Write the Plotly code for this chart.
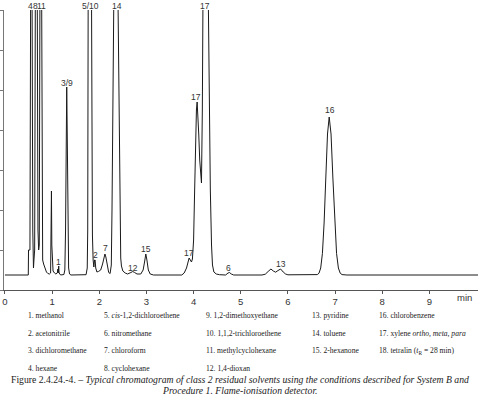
import plotly.graph_objects as go

# ---------------- data (time in min, detector signal in arbitrary units) ----
# baseline sits at 15; values above 280 are off-scale (clipped at the top of the plot)
seg_start = [(0.00, 15), (0.495, 15), (0.500, 40), (0.530, 40)]
seg_4_8_11 = [(0.545, 300), (0.575, 300), (0.590, 60), (0.597, 28), (0.605, 22), (0.615, 30),
              (0.630, 40), (0.645, 300), (0.685, 300), (0.700, 60), (0.715, 40), (0.728, 45),
              (0.742, 300), (0.778, 300), (0.790, 60), (0.800, 30), (0.820, 26), (0.850, 21),
              (0.880, 18), (0.910, 16.5), (0.945, 16)]
seg_1 = [(0.968, 17), (0.978, 45), (0.986, 99), (0.994, 45), (1.004, 22), (1.020, 19), (1.050, 17),
         (1.080, 16), (1.110, 17), (1.122, 21), (1.130, 17), (1.140, 24), (1.148, 17), (1.160, 15.5),
         (1.180, 15)]
seg_3_9 = [(1.250, 15.5), (1.270, 20), (1.285, 60), (1.300, 160), (1.310, 203), (1.320, 160),
           (1.335, 60), (1.350, 22), (1.370, 16), (1.400, 15)]
seg_5_10_2_7 = [(1.720, 15.3), (1.745, 22), (1.755, 60), (1.765, 300), (1.835, 300), (1.845, 120),
                (1.855, 55), (1.870, 30), (1.885, 23), (1.900, 30), (1.912, 30), (1.925, 22),
                (1.950, 18), (1.980, 18.5), (2.030, 20), (2.070, 26), (2.100, 33), (2.120, 36),
                (2.140, 33), (2.170, 24), (2.200, 17.5), (2.230, 16.5)]
seg_14_12_15 = [(2.255, 25), (2.270, 80), (2.285, 180), (2.300, 270), (2.310, 300), (2.395, 300),
                (2.410, 230), (2.425, 130), (2.440, 60), (2.455, 32), (2.470, 24), (2.500, 19),
                (2.550, 17), (2.600, 16), (2.670, 17.5), (2.710, 18.5), (2.750, 17.5), (2.800, 16),
                (2.880, 16), (2.930, 20), (2.960, 28), (2.987, 36), (3.010, 30), (3.040, 20),
                (3.080, 16), (3.150, 15)]
seg_17 = [(3.750, 15), (3.800, 17), (3.850, 22), (3.880, 28), (3.905, 32), (3.930, 30), (3.955, 28),
          (3.975, 31), (3.990, 38), (4.000, 50), (4.020, 95), (4.040, 145), (4.060, 180),
          (4.075, 188), (4.090, 178), (4.110, 155), (4.130, 130), (4.150, 112), (4.167, 107),
          (4.185, 180), (4.200, 300), (4.310, 300), (4.330, 200), (4.355, 100), (4.380, 45),
          (4.400, 25), (4.430, 18), (4.480, 16), (4.550, 15.3)]
seg_6_13 = [(4.680, 15), (4.730, 17), (4.760, 17.5), (4.800, 16), (4.850, 15), (5.450, 15),
            (5.520, 15.8), (5.580, 18.5), (5.640, 21), (5.690, 19), (5.740, 17.8), (5.790, 19.5),
            (5.845, 21), (5.900, 18), (5.950, 16), (6.000, 15.2)]
seg_16 = [(6.623, 15.4), (6.659, 16.8), (6.695, 22), (6.731, 36.6), (6.767, 67), (6.803, 112),
          (6.839, 156), (6.875, 173), (6.914, 156), (6.953, 112), (6.992, 67), (7.031, 36.6),
          (7.070, 22), (7.109, 16.8), (7.148, 15.4), (7.250, 15), (10.03, 15)]

segments = [seg_start, seg_4_8_11, seg_1, seg_3_9, seg_5_10_2_7, seg_14_12_15, seg_17, seg_6_13, seg_16]
time_min = [p[0] for s in segments for p in s]
signal = [p[1] for s in segments for p in s]

# peak labels: text, retention time, label height (signal units)
peak_labels = ["4", "8", "11", "3/9", "1", "5/10", "2", "7", "14", "12", "15",
               "17", "17", "17", "6", "13", "16"]
label_time = [0.54, 0.655, 0.77, 1.31, 1.14, 1.81, 1.93, 2.125, 2.37, 2.72, 2.99,
              3.905, 4.06, 4.25, 4.75, 5.85, 6.885]
label_height = [284.5, 284.5, 284.5, 207, 28, 284.5, 35.5, 42, 284.5, 22.5, 41,
                37, 193, 284.5, 22, 26, 179.5]

x_ticks = [0, 1, 2, 3, 4, 5, 6, 7, 8, 9]

solvents = ["1. methanol", "2. acetonitrile", "3. dichloromethane", "4. hexane",
            "5. <i>cis</i>-1,2-dichloroethene", "6. nitromethane", "7. chloroform", "8. cyclohexane",
            "9. 1,2-dimethoxyethane", "10. 1,1,2-trichloroethene", "11. methylcyclohexane",
            "12. 1,4-dioxan",
            "13. pyridine", "14. toluene", "15. 2-hexanone",
            "16. chlorobenzene", "17. xylene <i>ortho, meta, para</i>",
            "18. tetralin (<i>t</i><sub>R</sub> = 28 min)"]
solvent_columns = [[0, 1, 2, 3], [4, 5, 6, 7], [8, 9, 10, 11], [12, 13, 14], [15, 16, 17]]

caption_1 = ("Figure 2.4.24.-4. \u2013 <i>Typical chromatogram of class 2 residual solvents "
             "using the conditions described for System B and</i>")
caption_2 = "<i>Procedure 1. Flame-ionisation detector.</i>"

# ---------------- layout constants (pixels) ----------------
W, H = 480, 395
ML, MR, MT, MB = 4, 2, 10, 105
PW, PH = W - ML - MR, H - MT - MB
Y_MAX = 280
COL_X = [26, 102, 204, 310, 377]
ROW_Y = [315.5, 333, 350.5, 368]
CAP_Y = [379.5, 390.5]


def px_to_paper(x, y):
    return (x - ML) / PW, (H - MB - y) / PH


fig = go.Figure()
fig.add_trace(go.Scatter(x=time_min, y=signal, mode="lines",
                         line=dict(color="#1a1a1a", width=1), hoverinfo="skip", showlegend=False))

ann = []
for txt, t, h in zip(peak_labels, label_time, label_height):
    ann.append(dict(x=t, y=h / Y_MAX, xref="x", yref="paper", text=txt, showarrow=False,
                    xanchor="center", yanchor="middle",
                    font=dict(family="Liberation Sans, Arial", size=8.5, color="#333")))

ann.append(dict(x=9.75, y=-7 / Y_MAX, xref="x", yref="paper", text="min", showarrow=False,
                xanchor="center", yanchor="middle",
                font=dict(family="Liberation Sans, Arial", size=9.5, color="#333")))

for ci, col in enumerate(solvent_columns):
    for ri, idx in enumerate(col):
        xp, yp = px_to_paper(COL_X[ci], ROW_Y[ri])
        ann.append(dict(x=xp, y=yp, xref="paper", yref="paper", text=solvents[idx],
                        showarrow=False, xanchor="left", yanchor="middle",
                        font=dict(family="Liberation Serif, Times New Roman", size=7.6, color="#222")))

for txt, cy in zip([caption_1, caption_2], CAP_Y):
    xp, yp = px_to_paper(W / 2, cy)
    ann.append(dict(x=xp, y=yp, xref="paper", yref="paper", text=txt, showarrow=False,
                    xanchor="center", yanchor="middle",
                    font=dict(family="Liberation Serif, Times New Roman", size=9.7, color="#222")))

fig.update_layout(
    width=W, height=H, autosize=False,
    margin=dict(l=ML, r=MR, t=MT, b=MB, pad=0),
    paper_bgcolor="white", plot_bgcolor="white",
    annotations=ann,
    xaxis=dict(range=[-0.02, 10.03], tickvals=x_ticks, ticktext=[str(v) for v in x_ticks],
               showgrid=False, zeroline=False, showline=True, linecolor="#555", linewidth=1,
               ticks="outside", ticklen=3, tickcolor="#555", tickwidth=1,
               tickfont=dict(family="Liberation Sans, Arial", size=9.5, color="#333")),
    yaxis=dict(range=[0, Y_MAX], dtick=40, showticklabels=False, showgrid=False, zeroline=False,
               showline=True, linecolor="#777", linewidth=1,
               ticks="outside", ticklen=3, tickcolor="#777", tickwidth=1),
)

fig.write_html("out.html", config={"displayModeBar": False},
               post_script="document.body.style.margin='0';document.body.style.overflow='hidden';")
